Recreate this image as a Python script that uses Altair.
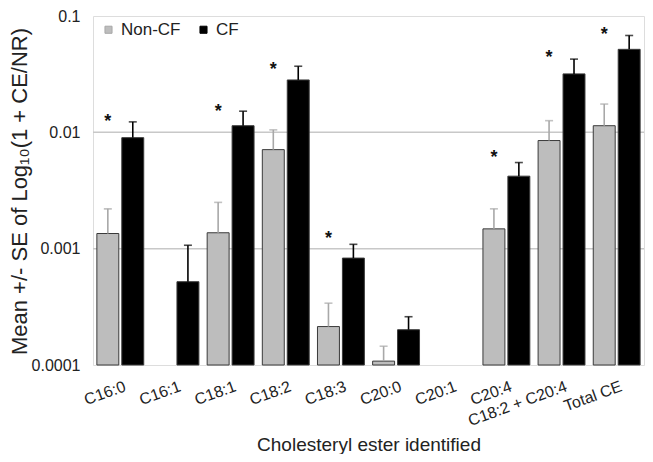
import altair as alt
import pandas as pd

categories = ["C16:0", "C16:1", "C18:1", "C18:2", "C18:3", "C20:0", "C20:1",
              "C20:4", "C18:2 + C20:4", "Total CE"]
groups = ["Non-CF", "CF"]

noncf_mean = [0.00135, None, 0.00137, 0.0071, 0.000214, 0.000108, None, 0.00148, 0.0085, 0.0114]
noncf_err_top = [0.0022, None, 0.0025, 0.0105, 0.00034, 0.000145, None, 0.0022, 0.0126, 0.0175]
cf_mean = [0.0090, 0.00052, 0.0114, 0.0282, 0.00083, 0.000201, None, 0.0042, 0.0318, 0.0517]
cf_err_top = [0.0123, 0.00107, 0.0152, 0.037, 0.00109, 0.00026, None, 0.0055, 0.0426, 0.068]

star_cats = ["C16:0", "C18:1", "C18:2", "C18:3", "C20:4", "C18:2 + C20:4", "Total CE"]
star_vals = [0.0136, 0.0165, 0.038, 0.00135, 0.0066, 0.048, 0.076]

grid_vals = [0.01, 0.001]
y_ticks = [0.0001, 0.001, 0.01, 0.1]
y_min, y_max = 0.0001, 0.1

rows = []
for c, m, e in zip(categories, noncf_mean, noncf_err_top):
    if m is not None:
        rows.append({"cat": c, "group": "Non-CF", "mean": m, "err": e, "base": y_min})
for c, m, e in zip(categories, cf_mean, cf_err_top):
    if m is not None:
        rows.append({"cat": c, "group": "CF", "mean": m, "err": e, "base": y_min})
df = pd.DataFrame(rows)

stars = pd.DataFrame({"cat": star_cats, "group": ["Non-CF"] * len(star_cats),
                      "val": star_vals, "s": ["*"] * len(star_cats)})
grid = pd.DataFrame({"g": grid_vals})

FONT = "Liberation Sans"
TXT = "#222222"

x_enc = alt.X("cat:N", sort=categories,
              scale=alt.Scale(domain=categories, paddingInner=0.15, paddingOuter=0.07),
              axis=alt.Axis(title="Cholesteryl ester identified", labelAngle=-20,
                            labelAlign="right", labelBaseline="top", labelPadding=13,
                            labelOffset=2, labelFontSize=16, labelColor=TXT, ticks=False,
                            domain=False, titleFontSize=19, titleFontWeight="normal",
                            titleColor=TXT, titleY=85, titleBaseline="alphabetic",
                            labelFont=FONT, titleFont=FONT))
xo_enc = alt.XOffset("group:N", sort=groups,
                     scale=alt.Scale(domain=groups, paddingInner=0.12))
y_scale = alt.Scale(type="log", domain=[y_min, y_max])

y_axis = alt.Axis(title="Mean +/- SE of Log₁₀(1 + CE/NR)", values=y_ticks, format="~g",
                  grid=False, ticks=False, domain=False, labelFontSize=16, labelColor=TXT,
                  labelPadding=13, titleFontSize=22, titleFontWeight="normal",
                  titleColor=TXT, titleX=-74, titleY=175, titleAngle=-90,
                  titleAlign="center", titleBaseline="middle", labelFont=FONT, titleFont=FONT)

gridlayer = alt.Chart(grid).mark_rule(color="#c8c8c8", strokeWidth=1.5).encode(
    y=alt.Y("g:Q", scale=y_scale, axis=y_axis)
)

bars = alt.Chart(df).mark_bar(stroke="#3a3a3a", strokeWidth=1).encode(
    x=x_enc, xOffset=xo_enc,
    y=alt.Y("mean:Q", scale=y_scale, axis=y_axis),
    y2="base:Q",
    fill=alt.Fill("group:N", sort=groups,
                  scale=alt.Scale(domain=groups, range=["#bdbdbd", "#000000"]),
                  legend=alt.Legend(title=None, orient="none", legendX=7, legendY=5,
                                    direction="horizontal",
                                    symbolType="square", symbolSize=50,
                                    symbolStrokeColor="#3a3a3a", symbolStrokeWidth=1,
                                    labelFontSize=17, labelColor=TXT, labelFont=FONT,
                                    labelOffset=4, columnPadding=14, padding=0))
)

err_rule = alt.Chart(df).mark_rule(strokeWidth=1.6).encode(
    x=x_enc, xOffset=xo_enc,
    y=alt.Y("mean:Q", scale=y_scale), y2="err:Q",
    stroke=alt.Stroke("group:N", sort=groups,
                      scale=alt.Scale(domain=groups, range=["#a8a8a8", "#000000"]),
                      legend=None)
)

err_cap = alt.Chart(df).mark_tick(thickness=1.6, size=8).encode(
    x=x_enc, xOffset=xo_enc,
    y=alt.Y("err:Q", scale=y_scale),
    color=alt.Color("group:N", sort=groups,
                    scale=alt.Scale(domain=groups, range=["#a8a8a8", "#000000"]),
                    legend=None)
)

star_layer = alt.Chart(stars).mark_text(fontSize=18, fontWeight="bold", color="#111",
                                        baseline="middle", dy=5, font=FONT).encode(
    x=x_enc, xOffset=xo_enc,
    y=alt.Y("val:Q", scale=y_scale),
    text="s:N"
)

chart = alt.layer(gridlayer, bars, err_rule, err_cap, star_layer).properties(
    width=551, height=349,
    padding={"left": 85, "top": 8, "right": 1, "bottom": 89},
    autosize=alt.AutoSizeParams(type="none"),
).configure_view(stroke="#404040", strokeWidth=1.5).configure(font=FONT)

chart.save("out.html", embed_options={"renderer": "svg", "actions": False})
